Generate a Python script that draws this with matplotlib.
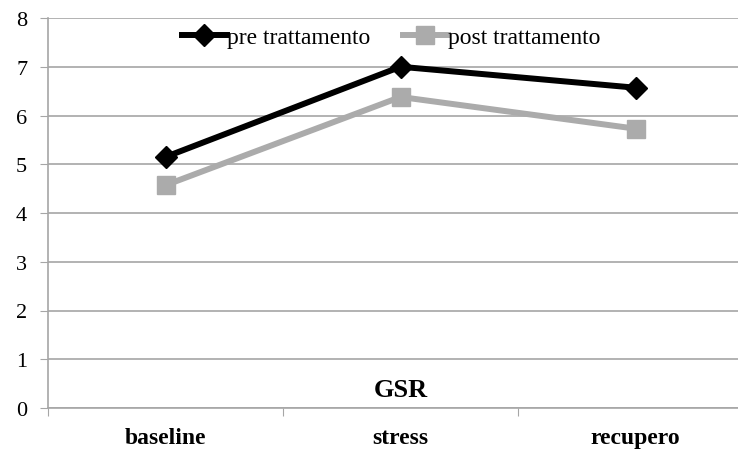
import matplotlib.pyplot as plt

categories = ["baseline", "stress", "recupero"]
pre = [5.15, 7.0, 6.57]
post = [4.57, 6.38, 5.73]
yticks = [0, 1, 2, 3, 4, 5, 6, 7, 8]

plt.rcParams['font.family'] = ['Liberation Serif', 'DejaVu Serif']

fig = plt.figure(figsize=(7.38, 4.52), dpi=100)
ax = fig.add_axes([48 / 738, 1 - 409 / 452, 1 - 48 / 738, 390 / 452])

x = list(range(len(categories)))
ax.plot(x, pre, color="black", lw=4.3, marker="D", ms=11, label="pre trattamento", zorder=4)
ax.plot(x, post, color="#ababab", lw=4.3, marker="s", ms=13.5, label="post trattamento", zorder=3)

ax.set_yticks(yticks)
ax.set_yticklabels([str(v) for v in yticks], fontsize=16)
ax.yaxis.grid(True, color="#a6a6a6", lw=1.2)
ax.set_axisbelow(True)

# category boundaries carry the tick marks, names sit between them
ax.set_xticks([-0.5, 0.5, 1.5, 2.5])
ax.set_xticklabels([])
ax.set_xticks(x, minor=True)
ax.set_xticklabels(categories, minor=True, fontsize=17, fontweight="bold")
ax.tick_params(axis="x", which="minor", length=0, pad=14)
ax.tick_params(axis="x", which="major", length=6, color="#a6a6a6")
ax.tick_params(axis="y", length=6, color="#a6a6a6", pad=9)

# limits last, set_xticks would widen them otherwise
ax.set_ylim(0, 8)
ax.set_xlim(-0.5, -0.5 + 690 / 235)

for side in ["top", "right"]:
    ax.spines[side].set_visible(False)
for side in ["left", "bottom"]:
    ax.spines[side].set_color("#a6a6a6")
    ax.spines[side].set_linewidth(1.2)

ax.text(1, 0.37, "GSR", ha="center", va="center", fontsize=19, fontweight="bold")

ax.legend(loc="center", bbox_to_anchor=(0.497, 0.951), ncol=2, frameon=False,
          fontsize=17, handlelength=1.9, handletextpad=0.0, columnspacing=1.4)

fig.savefig("out.png", dpi=100)
